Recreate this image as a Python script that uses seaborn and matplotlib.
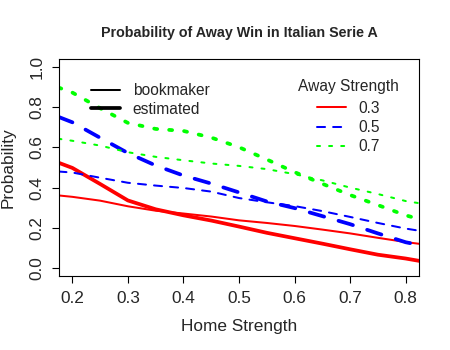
import numpy as np
import pandas as pd
import seaborn as sns
import matplotlib
matplotlib.use("Agg")
import matplotlib.pyplot as plt
from matplotlib.lines import Line2D
from matplotlib.colors import to_hex

# Home strength grid and away-win probabilities per away strength
home = [0.175, 0.2, 0.25, 0.3, 0.35, 0.4, 0.45, 0.5, 0.55, 0.6, 0.65, 0.7, 0.75, 0.8, 0.825]

book_03 = [0.361, 0.354, 0.335, 0.307, 0.285, 0.271, 0.256, 0.237, 0.224, 0.209, 0.191, 0.172, 0.150, 0.129, 0.120]
est_03 = [0.524, 0.498, 0.418, 0.336, 0.292, 0.262, 0.236, 0.206, 0.175, 0.148, 0.121, 0.093, 0.066, 0.047, 0.035]

book_05 = [0.480, 0.475, 0.449, 0.424, 0.410, 0.398, 0.380, 0.348, 0.327, 0.308, 0.283, 0.254, 0.224, 0.196, 0.185]
est_05 = [0.752, 0.725, 0.648, 0.572, 0.510, 0.460, 0.420, 0.376, 0.331, 0.298, 0.258, 0.218, 0.172, 0.128, 0.114]

book_07 = [0.643, 0.633, 0.609, 0.576, 0.553, 0.536, 0.520, 0.508, 0.492, 0.467, 0.436, 0.400, 0.368, 0.333, 0.322]
est_07 = [0.898, 0.873, 0.795, 0.722, 0.692, 0.682, 0.649, 0.601, 0.540, 0.477, 0.419, 0.363, 0.313, 0.262, 0.243]

away_levels = ["0.3", "0.5", "0.7"]
sources = ["bookmaker", "estimated"]
colors = {"0.3": "#FF0000", "0.5": "#0000FF", "0.7": "#00FF00"}
dash_map = {"0.3": "", "0.5": (4, 4), "0.7": (1, 3)}
width_map = {"bookmaker": 1.45, "estimated": 2.7}
# dot spacing (in line widths) for the dotted lines, per source
dot_map = {"bookmaker": (1.5, 4.5), "estimated": (0.8, 3.2)}

series = {
    ("0.3", "bookmaker"): book_03, ("0.3", "estimated"): est_03,
    ("0.5", "bookmaker"): book_05, ("0.5", "estimated"): est_05,
    ("0.7", "bookmaker"): book_07, ("0.7", "estimated"): est_07,
}
rows = []
for (away, src), vals in series.items():
    for h, p in zip(home, vals):
        rows.append({"home": h, "prob": p, "away": away, "source": src})
df = pd.DataFrame(rows)

sns.set_style("white")
plt.rcParams["font.family"] = ["Liberation Sans", "DejaVu Sans"]
plt.rcParams["lines.solid_capstyle"] = "round"
plt.rcParams["lines.dash_capstyle"] = "round"

fig = plt.figure(figsize=(4.5, 3.5), dpi=100)
ax = fig.add_axes([59 / 450, 74 / 350, 360 / 450, 217 / 350])

sns.lineplot(data=df, x="home", y="prob", hue="away", hue_order=away_levels,
             palette=colors, style="away", style_order=away_levels, dashes=dash_map,
             size="source", size_order=sources, sizes=width_map,
             legend=False, ax=ax, sort=True)

# finer dot spacing for the dotted curves
for line in ax.get_lines():
    if to_hex(line.get_color()).lower() == colors["0.7"].lower():
        src = "estimated" if line.get_linewidth() > 2 else "bookmaker"
        line.set_dashes(dot_map[src])

ax.set_xlim(0.176, 0.824)
ax.set_ylim(-0.04, 1.04)
ax.set_xticks([0.2, 0.3, 0.4, 0.5, 0.6, 0.7, 0.8])
ax.set_yticks([0.0, 0.2, 0.4, 0.6, 0.8, 1.0])
ax.set_xticklabels(["0.2", "0.3", "0.4", "0.5", "0.6", "0.7", "0.8"])
ax.set_yticklabels(["0.0", "0.2", "0.4", "0.6", "0.8", "1.0"], rotation=90, va="center")
ax.tick_params(axis="both", direction="out", length=5, width=0.8, color="black",
               labelsize=12.4, pad=5.5, bottom=True, left=True)
for s in ax.spines.values():
    s.set_color("black")
    s.set_linewidth(0.8)

ax.set_xlabel("Home Strength", fontsize=12.4)
ax.set_ylabel("Probability", fontsize=12.4)
ax.xaxis.set_label_coords(0.5, -0.198)
ax.yaxis.set_label_coords(-0.121, 0.5)

fig.text(239 / 450, 1 - 36.7 / 350, "Probability of Away Win in Italian Serie A",
         ha="center", va="baseline", fontsize=10.3, fontweight="bold")

# source legend (line width)
src_handles = [Line2D([], [], color="black", lw=width_map[s]) for s in sources]
leg1 = ax.legend(src_handles, sources, loc="upper left",
                 bbox_to_anchor=(83 / 450, 1 - 75.5 / 350), bbox_transform=fig.transFigure,
                 frameon=False, fontsize=11.2, handlelength=1.9, handletextpad=0.8,
                 borderpad=0, labelspacing=0.22)
ax.add_artist(leg1)

# away strength legend (colour and line type)
away_handles = []
for a in away_levels:
    h = Line2D([], [], color=colors[a], lw=width_map["bookmaker"])
    if a == "0.7":
        h.set_dashes(dot_map["bookmaker"])
    elif dash_map[a]:
        h.set_dashes(dash_map[a])
    away_handles.append(h)
leg2 = ax.legend(away_handles, away_levels, title="Away Strength", loc="upper center",
                 bbox_to_anchor=(348.5 / 450, 1 - 71 / 350), bbox_transform=fig.transFigure,
                 frameon=False, fontsize=11.2, title_fontsize=11.2, handlelength=1.9,
                 handletextpad=0.8, borderpad=0, labelspacing=0.28)
leg2._legend_box.sep = 5

fig.savefig("out.png", dpi=100)
